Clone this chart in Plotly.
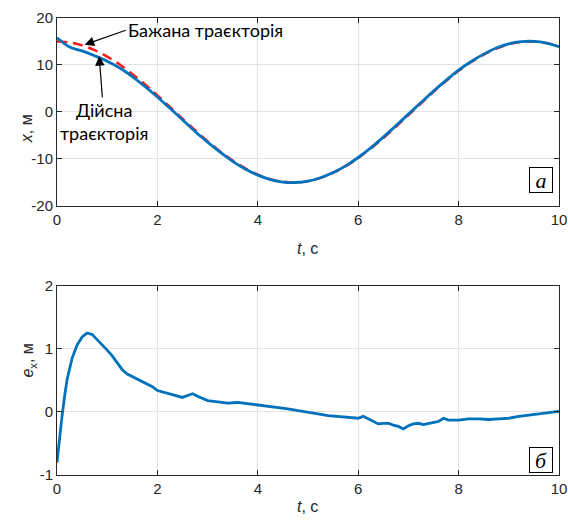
import plotly.graph_objects as go
from plotly.subplots import make_subplots

# ---- data ----
t_traj = [0, 0.25, 0.5, 0.75, 1.0, 1.25, 1.5, 1.75, 2.0, 2.25, 2.5, 2.75, 3.0, 3.25, 3.5, 3.75,
          4.0, 4.25, 4.5, 4.75, 5.0, 5.25, 5.5, 5.75, 6.0, 6.25, 6.5, 6.75, 7.0, 7.25, 7.5, 7.75,
          8.0, 8.25, 8.5, 8.75, 9.0, 9.25, 9.5, 9.75, 10.0]
x_desired = [15.00, 14.79, 14.18, 13.16, 11.79, 10.09, 8.10, 5.91, 3.53, 1.06, -1.44, -3.89,
             -6.24, -8.41, -10.36, -12.02, -13.34, -14.30, -14.85, -15.00, -14.73, -14.05,
             -12.98, -11.57, -9.80, -7.79, -5.55, -3.16, -0.69, 1.80, 4.26, 6.60, 8.76, 10.63,
             12.20, 13.50, 14.40, 14.90, 14.98, 14.65, 13.91]
x_actual = [15.80, 13.84, 12.99, 11.96, 10.81, 9.37, 7.54, 5.46, 3.19, 0.77, -1.67, -4.16,
            -6.42, -8.56, -10.51, -12.16, -13.46, -14.40, -14.92, -15.02, -14.73, -14.01,
            -12.91, -11.48, -9.70, -7.66, -5.37, -2.94, -0.47, 1.99, 4.43, 6.72, 8.89, 10.74,
            12.31, 13.61, 14.50, 14.97, 15.02, 14.67, 13.90]

t_err = [0, 0.05, 0.1, 0.15, 0.2, 0.3, 0.4, 0.5, 0.6, 0.7, 0.8, 0.9, 1.0, 1.1, 1.2, 1.3, 1.4,
         1.5, 1.6, 1.7, 1.8, 1.9, 2.0, 2.2, 2.4, 2.5, 2.6, 2.7, 2.8, 2.9, 3.0, 3.2, 3.4, 3.6,
         3.8, 4.0, 4.2, 4.4, 4.6, 4.8, 5.0, 5.2, 5.4, 5.6, 5.8, 6.0, 6.1, 6.2, 6.3, 6.4, 6.5,
         6.6, 6.7, 6.8, 6.9, 7.0, 7.1, 7.2, 7.3, 7.4, 7.5, 7.6, 7.7, 7.8, 8.0, 8.2, 8.4, 8.6,
         8.8, 9.0, 9.2, 9.4, 9.6, 9.8, 10.0]
e_x = [-0.80, -0.39, -0.07, 0.24, 0.51, 0.85, 1.06, 1.19, 1.25, 1.23, 1.15, 1.06, 0.98, 0.89,
       0.77, 0.67, 0.60, 0.56, 0.52, 0.47, 0.44, 0.40, 0.34, 0.30, 0.25, 0.23, 0.26, 0.29,
       0.25, 0.22, 0.18, 0.16, 0.14, 0.15, 0.13, 0.12, 0.10, 0.08, 0.05, 0.02, 0.00, -0.03,
       -0.06, -0.07, -0.09, -0.10, -0.07, -0.11, -0.15, -0.19, -0.18, -0.18, -0.21, -0.23,
       -0.27, -0.22, -0.19, -0.18, -0.20, -0.18, -0.17, -0.15, -0.10, -0.13, -0.13, -0.11,
       -0.11, -0.12, -0.11, -0.10, -0.07, -0.05, -0.03, -0.01, 0.01]

x_ticks = [0, 2, 4, 6, 8, 10]
y1_ticks = [-20, -10, 0, 10, 20]
y1_labels = ["-20", "-10", "0", "10", "20"]
y2_ticks = [-1, 0, 1, 2]
y2_labels = ["-1", "0", "1", "2"]

BLUE = "#0072BD"
AX = "#262626"
GRID = "#e3e3e3"
TICKFONT = dict(family="Liberation Sans, Arial", size=15, color=AX)

fig = make_subplots(rows=2, cols=1)

fig.add_trace(go.Scatter(x=t_traj, y=x_desired, mode="lines",
                         line=dict(color="#ff1a1a", width=2.5, dash="10px,6px", shape="spline"),
                         showlegend=False), row=1, col=1)
fig.add_trace(go.Scatter(x=t_traj, y=x_actual, mode="lines",
                         line=dict(color=BLUE, width=2.8, shape="spline"),
                         showlegend=False), row=1, col=1)
fig.add_trace(go.Scatter(x=t_err, y=e_x, mode="lines", line=dict(color=BLUE, width=2.8),
                         showlegend=False), row=2, col=1)

# body margin is removed by the post script, so figure pixels = window pixels
OFF = 0
W, H = 568 - OFF, 527 - OFF
# plot-area edges in window pixels
L, R, T, B = 57, 559, 17.7, 475
ml, mr, mt, mb = L - OFF, W - (R - OFF), T - OFF, H - (B - OFF)
ph = H - mt - mb
pw = W - ml - mr

def fy(py):
    return (B - py) / ph

def fx(px):
    return (px - L) / pw

axis_common = dict(showline=True, linecolor=AX, linewidth=1, mirror="ticks", ticks="inside",
                   ticklen=5, tickcolor=AX, showgrid=True, gridcolor=GRID, gridwidth=1,
                   zeroline=False, tickfont=TICKFONT, automargin=False,
                   ticklabeloverflow="allow")

fig.update_layout(
    width=W, height=H, margin=dict(l=ml, r=mr, t=mt, b=mb),
    paper_bgcolor="white", plot_bgcolor="white",
    xaxis=dict(domain=[0, 1], range=[0, 10], tickvals=x_ticks, **axis_common),
    yaxis=dict(domain=[fy(205.7), 1], range=[-20, 20], tickvals=y1_ticks, ticktext=y1_labels,
               **axis_common),
    xaxis2=dict(domain=[0, 1], range=[0, 10], tickvals=x_ticks, **axis_common),
    yaxis2=dict(domain=[0, fy(285.7)], range=[-1, 2], tickvals=y2_ticks, ticktext=y2_labels,
                **axis_common),
)

ann_font = dict(family="Lato, Carlito, Noto Sans", size=18, color="black")
title_font = dict(family="Liberation Sans, Arial", size=16, color=AX)
box_font = dict(family="Liberation Serif, Times New Roman", size=22, color="black")

annotations = [
    # axis titles
    dict(text="<i>t</i>, с", x=fx(307), xref="paper", y=fy(248), yref="paper",
         showarrow=False, font=title_font),
    dict(text="<i>t</i>, с", x=fx(307), xref="paper", y=fy(517), yref="paper",
         showarrow=False, font=title_font),
    dict(text="<i>x</i>, м", x=fx(16), xref="paper", y=fy(112), yref="paper",
         textangle=-90, showarrow=False, font=title_font),
    dict(text="<i>e</i><sub>x</sub>, м", x=fx(17), xref="paper", y=fy(380), yref="paper",
         textangle=-90, showarrow=False, font=title_font),
    # callouts with arrows
    dict(text="Бажана траєкторія", x=0.55, y=14.3, xref="x", yref="y",
         ax=1.37, ay=17.4, axref="x", ayref="y", xanchor="left", yanchor="middle",
         showarrow=True, arrowhead=2, arrowsize=1.6, arrowwidth=1.2, arrowcolor="black",
         font=ann_font),
    dict(text="Дійсна<br>траєкторія", x=0.84, y=11.9, xref="x", yref="y",
         ax=0.94, ay=-2.0, axref="x", ayref="y",
         showarrow=True, arrowhead=2, arrowsize=1.6, arrowwidth=1.2, arrowcolor="black",
         font=ann_font),
    # panel labels
    dict(text="<i>a</i>", x=9.64, y=-14.5, xref="x", yref="y", showarrow=False,
         font=box_font, bordercolor="black", borderwidth=1, borderpad=1, bgcolor="white",
         width=20, height=22),
    dict(text="<i>б</i>", x=9.64, y=-0.77, xref="x2", yref="y2", showarrow=False,
         font=box_font, bordercolor="black", borderwidth=1, borderpad=1, bgcolor="white",
         width=20, height=22),
]
fig.update_layout(annotations=annotations)

fig.write_html("out.html", default_width=f"{W}px", default_height=f"{H}px",
               config={"displayModeBar": False},
               post_script="document.body.style.margin='0';document.body.style.overflow='hidden';")
